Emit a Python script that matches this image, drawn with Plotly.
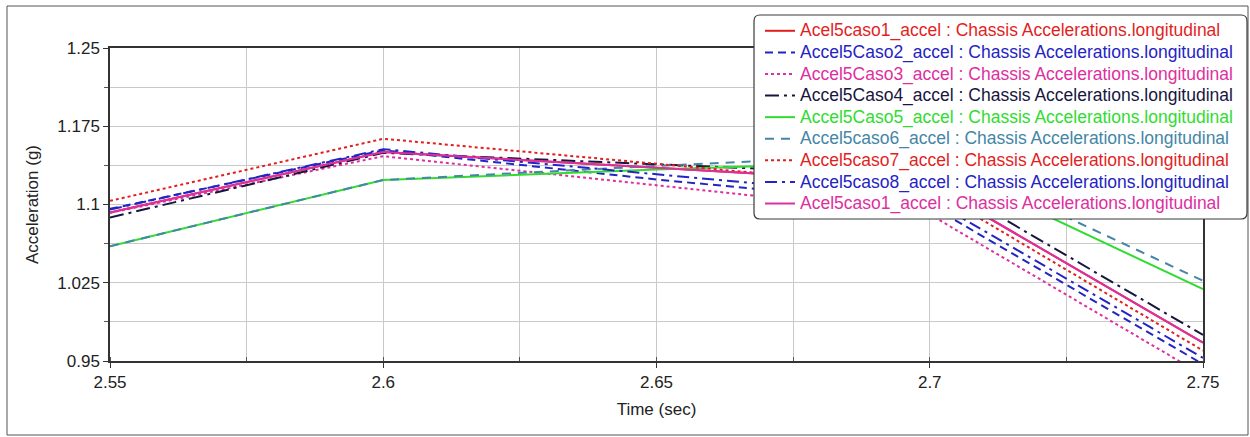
import plotly.graph_objects as go

# Sample times (s)
time_s = [2.55, 2.60, 2.65, 2.70, 2.75]

# Longitudinal chassis acceleration (g) per run
acel5caso1 = [1.0924, 1.1504, 1.1352, 1.1200, 0.9675]
accel5caso2 = [1.0958, 1.1520, 1.1240, 1.0990, 0.9470]
accel5caso3 = [1.0920, 1.1463, 1.1184, 1.0905, 0.9365]
accel5caso4 = [1.0875, 1.1495, 1.1385, 1.1275, 0.9750]
accel5caso5 = [1.0600, 1.1235, 1.1335, 1.1423, 1.0188]
accel5caso6 = [1.0600, 1.1235, 1.1370, 1.1490, 1.0270]
accel5caso7 = [1.1035, 1.1630, 1.1390, 1.1150, 0.9600]
accel5caso8 = [1.0952, 1.1530, 1.1290, 1.1050, 0.9530]

series_names = [
    "Acel5caso1_accel : Chassis Accelerations.longitudinal",
    "Accel5Caso2_accel : Chassis Accelerations.longitudinal",
    "Accel5Caso3_accel : Chassis Accelerations.longitudinal",
    "Accel5Caso4_accel : Chassis Accelerations.longitudinal",
    "Accel5Caso5_accel : Chassis Accelerations.longitudinal",
    "Accel5caso6_accel : Chassis Accelerations.longitudinal",
    "Accel5caso7_accel : Chassis Accelerations.longitudinal",
    "Accel5caso8_accel : Chassis Accelerations.longitudinal",
    "Acel5caso1_accel : Chassis Accelerations.longitudinal",
]
series_values = [acel5caso1, accel5caso2, accel5caso3, accel5caso4, accel5caso5,
                 accel5caso6, accel5caso7, accel5caso8, acel5caso1]

x_tick_vals = [2.55, 2.60, 2.65, 2.70, 2.75]
x_tick_text = ["2.55", "2.6", "2.65", "2.7", "2.75"]
y_tick_vals = [0.95, 1.025, 1.10, 1.175, 1.25]
y_tick_text = ["0.95", "1.025", "1.1", "1.175", "1.25"]

RED = "#e21f1f"
BLUE = "#2424c4"
MAGENTA = "#de2fa0"
NAVY = "#16163e"
GREEN = "#30dc30"
TEAL = "#4486a6"

styles = [
    dict(color=RED, dash="solid"),
    dict(color=BLUE, dash="8px,5px"),
    dict(color=MAGENTA, dash="3px,3px"),
    dict(color=NAVY, dash="14px,5px,3px,5px"),
    dict(color=GREEN, dash="solid"),
    dict(color=TEAL, dash="9px,7px"),
    dict(color=RED, dash="3px,3px"),
    dict(color=BLUE, dash="12px,5px,3px,5px"),
    dict(color=MAGENTA, dash="solid"),
]

FONT = "Liberation Sans, Arial, sans-serif"
TXT = "#222222"

fig = go.Figure()
for name, vals, st in zip(series_names, series_values, styles):
    fig.add_trace(go.Scatter(
        x=time_s, y=vals, mode="lines",
        name=f"<span style='color:{st['color']};font-size:17.5px'>{name}</span>",
        line=dict(color=st["color"], dash=st["dash"], width=2),
    ))

L, R, T, B = 110, 47, 48, 76
W, H = 1250, 437
pw, ph = W - L - R, H - T - B

def px_x(p):
    return (p - L) / pw

def px_y(p):
    return (H - B - p) / ph

axis_common = dict(
    showline=True, mirror=True, linecolor="#333333", linewidth=1.5,
    gridcolor="#c9c9c9", gridwidth=1, zeroline=False,
    ticks="outside", ticklen=5, tickcolor="#333333",
    tickfont=dict(family=FONT, size=17, color=TXT),
)

fig.update_xaxes(
    range=[2.55, 2.75], tickvals=x_tick_vals, ticktext=x_tick_text,
    title=dict(text="Time (sec)", font=dict(family=FONT, size=17, color=TXT), standoff=12),
    minor=dict(dtick=0.025, tick0=2.55, showgrid=True, gridcolor="#c9c9c9",
               ticks="inside", ticklen=4, tickcolor="#555555"),
    **axis_common,
)
fig.update_yaxes(
    range=[0.95, 1.25], tickvals=y_tick_vals, ticktext=y_tick_text,
    title=dict(text="Acceleration (g)", font=dict(family=FONT, size=17, color=TXT), standoff=14),
    minor=dict(dtick=0.0375, tick0=0.95, showgrid=True, gridcolor="#c9c9c9",
               ticks="outside", ticklen=4, tickcolor="#555555"),
    **axis_common,
)

# frame around the whole figure
fig.add_shape(type="rect", xref="paper", yref="paper",
              x0=px_x(7), x1=px_x(1248), y0=px_y(435), y1=px_y(6),
              line=dict(color="#555555", width=1), fillcolor="rgba(0,0,0,0)", layer="below")

# rounded legend panel, drawn above the traces; the legend entries sit on it
bx0, by0, bx1, by1, rad = px_x(754), px_y(15), px_x(1247), px_y(219), 6
rx, ry = rad / pw, rad / ph
panel = (
    f"M {bx0 + rx},{by0} L {bx1 - rx},{by0} Q {bx1},{by0} {bx1},{by0 - ry} "
    f"L {bx1},{by1 + ry} Q {bx1},{by1} {bx1 - rx},{by1} "
    f"L {bx0 + rx},{by1} Q {bx0},{by1} {bx0},{by1 + ry} "
    f"L {bx0},{by0 - ry} Q {bx0},{by0} {bx0 + rx},{by0} Z"
)
fig.add_shape(type="path", xref="paper", yref="paper", path=panel,
              line=dict(color="#3a3a3a", width=1.2), fillcolor="white", layer="above")

fig.update_layout(
    width=W, height=H,
    margin=dict(l=L, r=R, t=T, b=B),
    paper_bgcolor="white", plot_bgcolor="white",
    font=dict(family=FONT, size=17, color=TXT),
    showlegend=True,
    legend=dict(
        x=px_x(760), y=px_y(15), xanchor="left", yanchor="top",
        bgcolor="rgba(0,0,0,0)", borderwidth=0,
        font=dict(family=FONT, size=14.3),
        itemwidth=30, tracegroupgap=0,
    ),
)

fig.write_html("out.html")
